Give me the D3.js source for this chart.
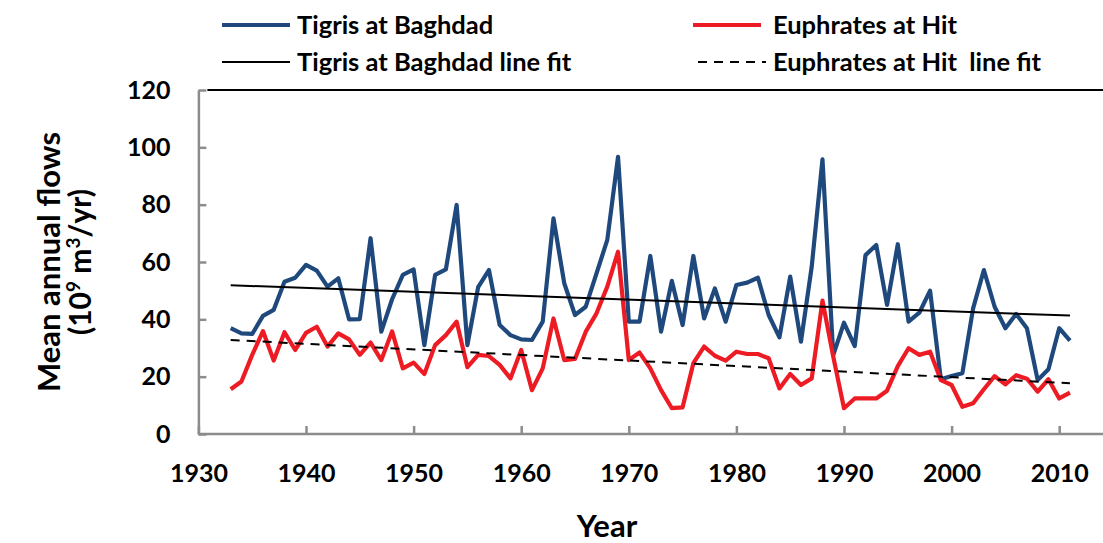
<!DOCTYPE html>
<html>
<head>
<meta charset="utf-8">
<script src="https://cdn.jsdelivr.net/npm/d3@7"></script>
<style>
  body { margin: 0; background: #fff; }
  svg { display: block; font-family: Lato, "Open Sans", sans-serif; font-weight: bold; }
  .axis path, .axis line { stroke: #8c8c8c; stroke-width: 2.5; }
  .axis text { font-size: 25px; fill: #000; font-family: Lato, sans-serif; font-weight: bold; }
</style>
</head>
<body>
<svg width="1103" height="543"></svg>
<script>
// years of record
var years = [1933, 1934, 1935, 1936, 1937, 1938, 1939, 1940, 1941, 1942,
  1943, 1944, 1945, 1946, 1947, 1948, 1949, 1950, 1951, 1952,
  1953, 1954, 1955, 1956, 1957, 1958, 1959, 1960, 1961, 1962,
  1963, 1964, 1965, 1966, 1967, 1968, 1969, 1970, 1971, 1972,
  1973, 1974, 1975, 1976, 1977, 1978, 1979, 1980, 1981, 1982,
  1983, 1984, 1985, 1986, 1987, 1988, 1989, 1990, 1991, 1992,
  1993, 1994, 1995, 1996, 1997, 1998, 1999, 2000, 2001, 2002,
  2003, 2004, 2005, 2006, 2007, 2008, 2009, 2010, 2011];

// mean annual flows (10^9 m3/yr)
var tigris = [36.9, 35.1, 34.9, 41.2, 43.3, 53.1, 54.5, 59.0, 57.0, 51.4,
  54.3, 40.0, 40.1, 68.3, 35.7, 47.0, 55.5, 57.4, 31.0, 55.5,
  57.4, 79.9, 31.0, 51.2, 57.2, 38.0, 34.5, 33.0, 32.8, 39.2,
  75.2, 52.6, 41.5, 44.4, 56.0, 67.7, 96.7, 39.2, 39.2, 62.1,
  35.7, 53.4, 38.0, 62.1, 40.3, 50.8, 39.2, 52.0, 52.8, 54.5,
  41.5, 33.7, 54.9, 32.2, 58.4, 95.8, 27.5, 38.8, 30.7, 62.4,
  65.9, 45.0, 66.2, 39.2, 42.3, 50.0, 19.1, 20.2, 21.2, 43.8,
  57.2, 44.4, 36.9, 41.9, 36.9, 18.8, 22.6, 36.9, 32.6];

var euphrates = [15.6, 18.3, 27.6, 35.9, 25.6, 35.5, 29.3, 35.3, 37.4, 30.5,
  35.1, 33.0, 27.6, 31.9, 25.8, 35.8, 22.9, 24.9, 20.9, 31.0,
  34.5, 39.2, 23.3, 27.6, 27.2, 24.1, 19.4, 29.3, 15.3, 22.9,
  40.3, 25.8, 26.2, 35.7, 42.1, 51.4, 63.6, 25.8, 28.4, 22.9,
  15.3, 9.0, 9.3, 24.7, 30.5, 27.3, 25.6, 28.7, 27.9, 27.9,
  26.4, 15.9, 20.9, 17.1, 19.4, 46.5, 27.0, 9.0, 12.4, 12.4,
  12.4, 15.1, 23.7, 29.9, 27.6, 28.7, 18.8, 17.1, 9.5, 10.7,
  15.6, 20.2, 17.3, 20.5, 19.3, 14.8, 19.1, 12.4, 14.4];

// linear fits, value at first and last year
var fitYears = [1933, 2011];
var tigrisFit = [51.9, 41.3];
var euphratesFit = [32.8, 17.7];

var xTicks = [1930, 1940, 1950, 1960, 1970, 1980, 1990, 2000, 2010];
var yTicks = [0, 20, 40, 60, 80, 100, 120];

var svg = d3.select("svg");

var x = d3.scaleLinear().domain([1930, 2020]).range([198.4, 1166.8]),
    y = d3.scaleLinear().domain([0, 120]).range([434, 90]);

var line = d3.line()
    .x(function(d) { return x(d[0]); })
    .y(function(d) { return y(d[1]); });

// top border
svg.append("line")
    .attr("x1", x(1930) + 9).attr("x2", 1103)
    .attr("y1", y(120)).attr("y2", y(120))
    .attr("stroke", "#000").attr("stroke-width", 2);

var xAxisG = svg.append("g")
    .attr("class", "axis")
    .attr("transform", "translate(0," + y(0) + ")")
    .call(d3.axisBottom(x).tickValues(xTicks).tickFormat(d3.format("d"))
        .tickSizeInner(-8).tickSizeOuter(0).tickPadding(30));
// axis line runs on to the edge
xAxisG.select(".domain").attr("d", "M" + x(1930) + ",0H1103");

svg.append("g")
    .attr("class", "axis")
    .attr("transform", "translate(" + x(1930) + ",0)")
    .call(d3.axisLeft(y).tickValues(yTicks)
        .tickSizeInner(-8).tickSizeOuter(0).tickPadding(28));

var tigrisPts = years.map(function(d, i) { return [d, tigris[i]]; });
var euphPts = years.map(function(d, i) { return [d, euphrates[i]]; });

svg.append("path").datum(tigrisPts)
    .attr("d", line).attr("fill", "none")
    .attr("stroke", "#1f497d").attr("stroke-width", 4.2)
    .attr("stroke-linejoin", "round");

svg.append("path").datum(euphPts)
    .attr("d", line).attr("fill", "none")
    .attr("stroke", "#ed1c24").attr("stroke-width", 4.2)
    .attr("stroke-linejoin", "round");

svg.append("path").datum(fitYears.map(function(d, i) { return [d, tigrisFit[i]]; }))
    .attr("d", line).attr("fill", "none")
    .attr("stroke", "#000").attr("stroke-width", 2);

svg.append("path").datum(fitYears.map(function(d, i) { return [d, euphratesFit[i]]; }))
    .attr("d", line).attr("fill", "none")
    .attr("stroke", "#000").attr("stroke-width", 2)
    .attr("stroke-dasharray", "9,7");

// legend
var legend = [
  {name: "Tigris at Baghdad", color: "#1f497d", w: 4, dash: null, lx: 222, ly: 25},
  {name: "Euphrates at Hit", color: "#ed1c24", w: 4, dash: null, lx: 693, ly: 25},
  {name: "Tigris at Baghdad line fit", color: "#000", w: 2, dash: null, lx: 222, ly: 62},
  {name: "Euphrates at Hit  line fit", color: "#000", w: 2, dash: "9,7", lx: 698, ly: 62}
];

var lg = svg.selectAll(".lg").data(legend).enter().append("g")
    .attr("class", "lg");

lg.append("line")
    .attr("x1", function(d) { return d.lx; })
    .attr("x2", function(d) { return d.lx + 68; })
    .attr("y1", function(d) { return d.ly; })
    .attr("y2", function(d) { return d.ly; })
    .attr("stroke", function(d) { return d.color; })
    .attr("stroke-width", function(d) { return d.w; })
    .attr("stroke-dasharray", function(d) { return d.dash; });

lg.append("text")
    .attr("x", function(d) { return d.lx < 500 ? 297 : 773; })
    .attr("y", function(d) { return d.ly; })
    .attr("dy", "0.35em")
    .style("font-size", "25.5px")
    .style("white-space", "pre")
    .attr("xml:space", "preserve")
    .text(function(d) { return d.name; });

// axis titles
svg.append("text")
    .attr("text-anchor", "middle")
    .attr("transform", "translate(60,262) rotate(-90)")
    .style("font-size", "31px")
    .text("Mean annual flows");

var t2 = svg.append("text")
    .attr("text-anchor", "middle")
    .attr("transform", "translate(91,262) rotate(-90)")
    .style("font-size", "30px");
t2.append("tspan").text("(10");
t2.append("tspan").attr("baseline-shift", "super").style("font-size", "19px").text("9");
t2.append("tspan").text(" m");
t2.append("tspan").attr("baseline-shift", "super").style("font-size", "19px").text("3");
t2.append("tspan").text("/yr)");

svg.append("text")
    .attr("text-anchor", "middle")
    .attr("x", 607).attr("y", 537)
    .style("font-size", "31px")
    .text("Year");
</script>
</body>
</html>
